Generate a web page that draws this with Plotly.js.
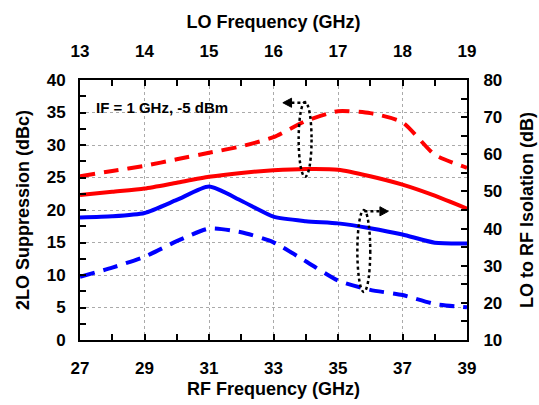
<!DOCTYPE html>
<html>
<head>
<meta charset="utf-8">
<script src="https://cdn.plot.ly/plotly-3.0.1.min.js"></script>
<style>html,body{margin:0;padding:0;background:#fff;}#chart{width:539px;height:405px;}</style>
</head>
<body>
<div id="chart"></div>
<script>
// RF frequency points (GHz)
const rfFreq = [27, 28, 29, 30, 31, 32, 33, 34, 35, 36, 37, 38, 39];
// 2LO suppression (dBc), left axis
const supDashed = [25.2, 26.0, 26.8, 27.8, 28.8, 29.8, 31.2, 33.7, 35.2, 34.9, 33.5, 28.5, 26.5];
const supSolid  = [22.3, 22.8, 23.3, 24.2, 25.1, 25.7, 26.1, 26.3, 26.2, 25.2, 23.9, 22.2, 20.2];
// LO to RF isolation (dB), right axis
const isoSolid  = [43.0, 43.3, 44.2, 47.7, 51.3, 47.5, 43.2, 42.0, 41.4, 40.1, 38.4, 36.2, 36.0];
const isoDashed = [27.0, 29.5, 32.4, 36.6, 40.0, 39.0, 36.3, 31.2, 26.0, 23.5, 22.1, 19.7, 18.8];
// Top axis (LO frequency) tick labels
const loTicks = [13, 14, 15, 16, 17, 18, 19];

const F = 'Liberation Sans, Arial, sans-serif';
const boldFont = (s) => ({family: F, size: s, color: '#000', weight: 'bold'});

const traces = [
  {x: rfFreq, y: supDashed, xaxis: 'x', yaxis: 'y', mode: 'lines', line: {color: '#FF0000', width: 4, dash: '15px,9px', shape: 'spline', smoothing: 0.6}},
  {x: rfFreq, y: supSolid, xaxis: 'x', yaxis: 'y', mode: 'lines', line: {color: '#FF0000', width: 4, shape: 'spline', smoothing: 0.6}},
  {x: rfFreq, y: isoSolid, xaxis: 'x', yaxis: 'y2', mode: 'lines', line: {color: '#0000FF', width: 4, shape: 'spline', smoothing: 0.6}},
  {x: rfFreq, y: isoDashed, xaxis: 'x', yaxis: 'y2', mode: 'lines', line: {color: '#0000FF', width: 4, dash: '15px,9px', shape: 'spline', smoothing: 0.6}},
  {x: [loTicks[0], loTicks[loTicks.length-1]], y: [0, 0], xaxis: 'x2', yaxis: 'y', mode: 'markers', marker: {opacity: 0}, hoverinfo: 'skip'}
];

const axCommon = {
  showline: true, linecolor: '#000', linewidth: 2,
  ticks: 'inside', ticklen: 6, tickwidth: 2, tickcolor: '#000',
  tickfont: boldFont(17), zeroline: false
};

const layout = {
  width: 539, height: 405,
  margin: {l: 80, r: 72, t: 80, b: 65},
  paper_bgcolor: '#fff', plot_bgcolor: '#fff',
  showlegend: false,
  xaxis: Object.assign({}, axCommon, {
    range: [27, 39], tickmode: 'array', tickvals: [27, 29, 31, 33, 35, 37, 39],
    ticklabelstandoff: 12,
    minor: {dtick: 1, tick0: 27, ticks: 'inside', ticklen: 6, tickwidth: 2, tickcolor: '#000', showgrid: false},
    showgrid: true, gridcolor: '#aaa', griddash: 'dot', gridwidth: 1,
    title: {text: 'RF Frequency (GHz)', font: boldFont(18), standoff: 5}
  }),
  xaxis2: Object.assign({}, axCommon, {
    range: [13, 19], overlaying: 'x', side: 'top', anchor: 'y',
    tickmode: 'array', tickvals: loTicks, ticklabelstandoff: 14,
    minor: {dtick: 0.5, tick0: 13, ticks: 'inside', ticklen: 6, tickwidth: 2, tickcolor: '#000', showgrid: false},
    showgrid: false,
    title: {text: 'LO Frequency (GHz)', font: boldFont(18), standoff: 9}
  }),
  yaxis: Object.assign({}, axCommon, {
    range: [0, 40], dtick: 5, tick0: 0, ticklabelstandoff: 9,
    minor: {dtick: 2.5, tick0: 0, ticks: 'inside', ticklen: 6, tickwidth: 2, tickcolor: '#000', showgrid: false},
    showgrid: true, gridcolor: '#aaa', griddash: 'dot', gridwidth: 1,
    title: {text: '2LO Suppression (dBc)', font: boldFont(18), standoff: 12}
  }),
  yaxis2: Object.assign({}, axCommon, {
    range: [10, 80], dtick: 10, tick0: 10, overlaying: 'y', side: 'right', anchor: 'x', ticklabelstandoff: 11,
    minor: {dtick: 5, tick0: 10, ticks: 'inside', ticklen: 6, tickwidth: 2, tickcolor: '#000', showgrid: false},
    showgrid: false,
    title: {text: 'LO to RF Isolation (dB)', font: boldFont(18), standoff: 19}
  }),
  shapes: [
    {type: 'circle', xref: 'x', yref: 'y', x0: 33.78, x1: 34.18, y0: 25.1, y1: 36.6, line: {color: '#000', width: 2.5, dash: 'dot'}},
    {type: 'line', xref: 'x', yref: 'y', x0: 34.02, x1: 33.5, y0: 36.5, y1: 36.5, line: {color: '#000', width: 2.5, dash: 'dot'}},
    {type: 'path', xref: 'x', yref: 'y', path: 'M 33.29,36.5 L 33.56,37.2 L 33.56,35.8 Z', fillcolor: '#000', line: {color: '#000', width: 1}},
    {type: 'circle', xref: 'x', yref: 'y', x0: 35.6, x1: 36.0, y0: 7.4, y1: 20.0, line: {color: '#000', width: 2.5, dash: 'dot'}},
    {type: 'line', xref: 'x', yref: 'y', x0: 35.82, x1: 36.35, y0: 19.8, y1: 19.8, line: {color: '#000', width: 2.5, dash: 'dot'}},
    {type: 'path', xref: 'x', yref: 'y', path: 'M 36.56,19.8 L 36.3,20.5 L 36.3,19.1 Z', fillcolor: '#000', line: {color: '#000', width: 1}}
  ],
  annotations: [
    {xref: 'paper', yref: 'paper', x: 0.036, y: 0.896, xanchor: 'left', yanchor: 'middle', showarrow: false,
     text: 'IF = 1 GHz, -5 dBm', font: boldFont(15)}
  ]
};

Plotly.newPlot('chart', traces, layout, {staticPlot: true, displayModeBar: false});
</script>
</body>
</html>
